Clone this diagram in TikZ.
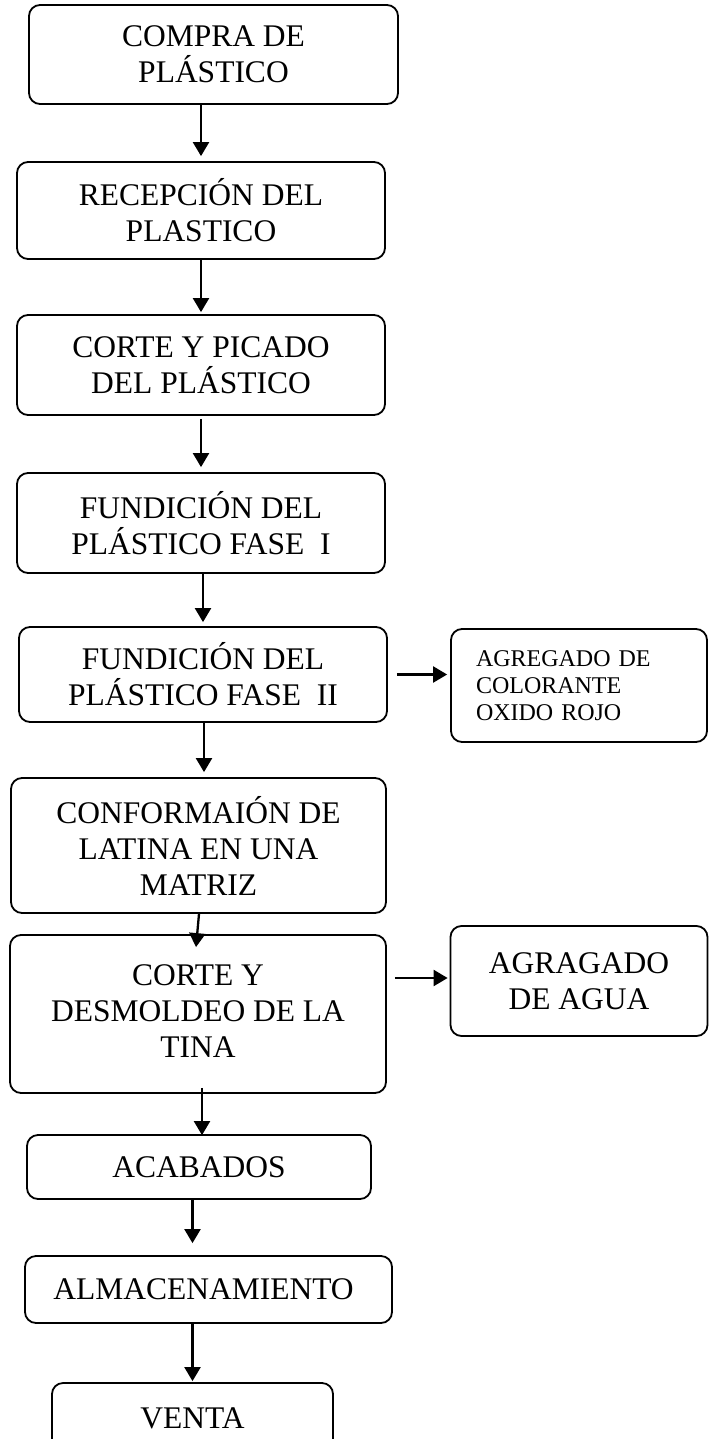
\documentclass[tikz,border=0pt]{standalone}
\usepackage{fontspec}
\setmainfont{Liberation Serif}
\usetikzlibrary{arrows.meta}
\newcommand{\bigtxt}{\fontsize{31.5}{36}\selectfont}
\newcommand{\smalltxt}{\fontsize{24}{27}\selectfont}
\tikzset{
  box/.style={draw, rounded corners=11pt, line width=1.8pt, align=center, inner sep=0pt, font=\bigtxt},
  arr/.style={line width=2.3pt, -{Triangle[length=14pt,width=16pt]}}
}
\begin{document}
\begin{tikzpicture}[x=1pt,y=-1pt]
\useasboundingbox (0,0) rectangle (709,1439);
\fill[white] (0,0) rectangle (709,1439);
\clip (0,0) rectangle (709,1439);
\node[box, minimum width=369pt, minimum height=99pt] (b1) at (213.5,54.5) {COMPRA DE\\PLÁSTICO};
\node[box, minimum width=368pt, minimum height=97pt] (b2) at (201,210.5) {RECEPCIÓN DEL\\PLASTICO};
\node[box, minimum width=368pt, minimum height=100pt] (b3) at (201,365) {CORTE Y PICADO\\DEL PLÁSTICO};
\node[box, minimum width=368pt, minimum height=100pt] (b4) at (201,523) {FUNDICIÓN DEL\\PLÁSTICO FASE\ \ I};
\node[box, minimum width=368pt, minimum height=95pt] (b5) at (203,674.5) {FUNDICIÓN DEL\\PLÁSTICO FASE\ \ II};
\node[box, font=\smalltxt, align=left, text width=206pt, inner xsep=25pt, minimum width=256pt, minimum height=113pt] (c) at (579,685.5) {AGREGADO DE\\COLORANTE\\OXIDO ROJO};
\node[box, minimum width=375pt, minimum height=135pt] (b7) at (198.5,845.5) {CONFORMAIÓN DE\\LATINA EN UNA\\MATRIZ};
\node[box, minimum width=376pt, minimum height=158pt] (b8) at (198,1014) {\raisebox{7pt}{\begin{tabular}{@{}c@{}}CORTE Y\\DESMOLDEO DE LA\\TINA\end{tabular}}};
\node[box, minimum width=257pt, minimum height=110pt] (a) at (579,981) {AGRAGADO\\DE AGUA};
\node[box, minimum width=344pt, minimum height=64pt] (b9) at (199,1167) {ACABADOS};
\node[box, minimum width=367pt, minimum height=67pt] (b10) at (208.5,1289.5) {ALMACENAMIENTO\hspace*{10pt}};
\node[box, minimum width=281pt, minimum height=70pt] (b11) at (192.5,1418) {VENTA};

\draw[arr] (b1.south -| b2.north) -- ([yshift=5pt]b2.north);
\draw[arr] (b2.south) -- ([yshift=2pt]b3.north);
\draw[arr] ([yshift=-3pt]b3.south) -- ([yshift=5pt]b4.north);
\draw[arr] ([xshift=2pt]b4.south) -- ([xshift=2pt,yshift=4pt]b4.south |- b5.north);
\draw[arr] ([xshift=1pt]b5.south) -- ([xshift=1pt,yshift=5pt]b5.south |- b7.north);
\draw[arr] ([xshift=9pt]b5.east) -- ([xshift=-3pt]c.west |- b5.east);
\draw[arr] ([xshift=0.5pt]b7.south) -- ([xshift=-2pt,yshift=-13pt]b8.north);
\draw[arr] ([xshift=8pt,yshift=3pt]b8.east |- a.west) -- ([xshift=-2pt,yshift=3pt]a.west);
\draw[arr] ([xshift=3pt,yshift=6pt]b9.north |- b8.south) -- ([xshift=3pt,yshift=-1pt]b9.north);
\draw[arr] ([xshift=-6.5pt]b9.south) -- ([xshift=-6.5pt,yshift=12pt]b9.south |- b10.north);
\draw[arr] (b11.north |- b10.south) -- ([yshift=1pt]b11.north);
\end{tikzpicture}
\end{document}
